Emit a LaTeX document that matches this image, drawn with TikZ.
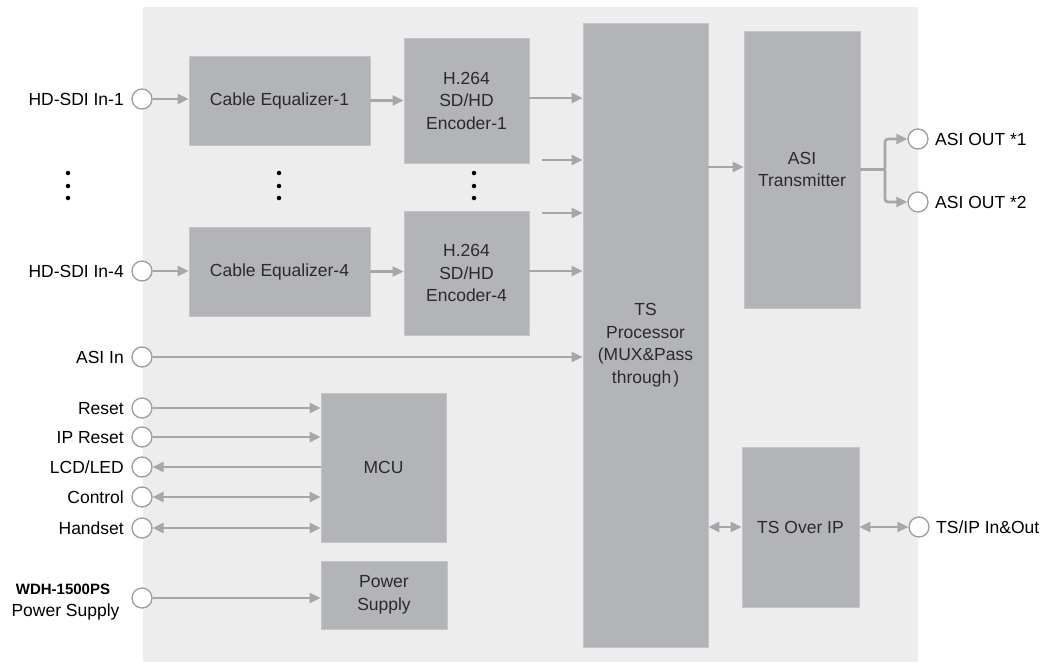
\documentclass[tikz,border=0pt]{standalone}
\usepackage{fontspec}
\setmainfont{Liberation Sans}
\usetikzlibrary{arrows.meta}
\definecolor{bg}{HTML}{EDEDED}
\definecolor{boxgray}{HTML}{B3B4B8}
\definecolor{boxedge}{HTML}{C4C5C8}
\definecolor{arrgray}{HTML}{A6A7AA}
\definecolor{circedge}{HTML}{9C9C9C}
\definecolor{txt}{HTML}{2A2A2A}
\begin{document}
\begin{tikzpicture}[x=1pt,y=-1pt,
  every node/.style={font=\fontsize{17.5}{22.5}\selectfont},
  blk/.style={fill=boxgray, draw=boxedge, line width=0.8pt, inner sep=0pt, align=center, text=txt},
  port/.style={circle, draw=circedge, fill=white, line width=1.3pt, minimum size=20pt, inner sep=0pt},
  lbl/.style={inner sep=0pt, text=black, text height=12.5pt, text depth=0pt},
  arr/.style={draw=arrgray, line width=2.6pt, -{Triangle[length=11pt,width=10pt]}},
  darr/.style={draw=arrgray, line width=2.6pt, {Triangle[length=11pt,width=10pt]}-{Triangle[length=11pt,width=10pt]}},
  plain/.style={draw=arrgray, line width=2.6pt},
  dotn/.style={circle, fill=black, inner sep=0pt, minimum size=4.5pt}]
\useasboundingbox (0,0) rectangle (1051,662);
\fill[bg] (143,7) rectangle (918,662);

% blocks
\node[blk, minimum width=181pt, minimum height=89pt] (ce1) at (279.5,100.5) {Cable Equalizer-1};
\node[blk, minimum width=181pt, minimum height=89pt] (ce4) at (279.5,271.5) {Cable Equalizer-4};
\node[blk, minimum width=125pt, minimum height=125pt] (enc1) at (466.5,100.5) {H.264\\SD/HD\\Encoder-1};
\node[blk, minimum width=125pt, minimum height=124pt] (enc4) at (466.5,273) {H.264\\SD/HD\\Encoder-4};
\node[blk, minimum width=125pt, minimum height=624pt] (ts) at (645.5,335) {};
\node[inner sep=0pt, align=center, text=txt] (tstxt) at (645.5,345) {TS\\Processor\\(MUX\&Pass\\through\kern2pt)};
\node[blk, minimum width=116pt, minimum height=277pt] (asit) at (802,169.5) {ASI\\Transmitter};
\node[blk, minimum width=117pt, minimum height=160pt] (tsip) at (800.5,527) {TS Over IP};
\node[blk, minimum width=125pt, minimum height=149pt] (mcu) at (383.5,467.5) {MCU};
\node[blk, minimum width=126pt, minimum height=68pt] (ps) at (384,595) {Power\\Supply};

% ports
\node[port] (pin1) at (142,99) {};
\node[port] (pin4) at (142,271) {};
\node[port] (pasi) at (142,357) {};
\node[port] (prst) at (142,408) {};
\node[port] (pipr) at (142,437) {};
\node[port] (plcd) at (142,467) {};
\node[port] (pctl) at (142,497) {};
\node[port] (phs) at (142,528) {};
\node[port] (ppw) at (142,598) {};
\node[port] (pout1) at (918,139) {};
\node[port] (pout2) at (918,202) {};
\node[port] (ptsip) at (919,527) {};

% labels
\node[lbl, anchor=east] (lin1) at (124,99) {HD-SDI In-1};
\node[lbl, anchor=east] (lin4) at (124,271) {HD-SDI In-4};
\node[lbl, anchor=east] (lasi) at (124,357) {ASI In};
\node[lbl, anchor=east] (lrst) at (124,408) {Reset};
\node[lbl, anchor=east] (lipr) at (124,437) {IP Reset};
\node[lbl, anchor=east] (llcd) at (124,467) {LCD/LED};
\node[lbl, anchor=east] (lctl) at (124,497) {Control};
\node[lbl, anchor=east] (lhs) at (124,528) {Handset};
\node[lbl, font=\fontsize{15}{18}\selectfont\bfseries] (lwdh) at (63,588) {WDH-1500PS};
\node[lbl] (lpw) at (65.5,610) {Power Supply};
\node[lbl, anchor=west] (lout1) at (935,139) {ASI OUT *1};
\node[lbl, anchor=west] (lout2) at (935,202) {ASI OUT *2};
\node[lbl, anchor=west] (ltsip) at (936,527) {TS/IP In\&Out};

% ellipsis dots
\foreach \x/\n in {68/a,279/b,474/c}{
  \node[dotn] (d\n1) at (\x,173) {};
  \node[dotn] (d\n2) at (\x,186) {};
  \node[dotn] (d\n3) at (\x,198) {};
}

% connectors
\draw[arr] (pin1.east) -- (pin1.east -| ce1.west);
\draw[arr] (pin4.east) -- (pin4.east -| ce4.west);
\draw[arr] (ce1.east) -- (ce1.east -| enc1.west);
\draw[arr] (ce4.east) -- (ce4.east -| enc4.west);
\coordinate (e1) at (529,98);
\coordinate (e4) at (529,271);
\coordinate (m1) at (542,160);
\coordinate (m2) at (542,213);
\draw[arr] (e1) -- (e1 -| ts.west);
\draw[arr] (m1) -- (m1 -| ts.west);
\draw[arr] (m2) -- (m2 -| ts.west);
\draw[arr] (e4) -- (e4 -| ts.west);
\draw[arr] (pasi.east) -- (pasi.east -| ts.west);
\coordinate (tso) at (708,167);
\draw[arr] (tso) -- (tso -| asit.west);
\coordinate (br) at (885,169.5);
\draw[plain] (asit.east) -- (br);
\draw[arr, rounded corners=3pt] (br) |- (pout1.west);
\draw[arr, rounded corners=3pt] (br) |- (pout2.west);

\draw[arr] (prst.east) -- (prst.east -| mcu.west);
\draw[arr] (pipr.east) -- (pipr.east -| mcu.west);
\draw[arr] (plcd.east -| mcu.west) -- (plcd.east);
\draw[darr] (pctl.east) -- (pctl.east -| mcu.west);
\draw[darr] (phs.east) -- (phs.east -| mcu.west);
\draw[arr] (ppw.east) -- (ppw.east -| ps.west);

\draw[darr] (ts.east |- tsip.west) -- (tsip.west);
\draw[darr] (tsip.east) -- (ptsip.west);
\end{tikzpicture}
\end{document}
